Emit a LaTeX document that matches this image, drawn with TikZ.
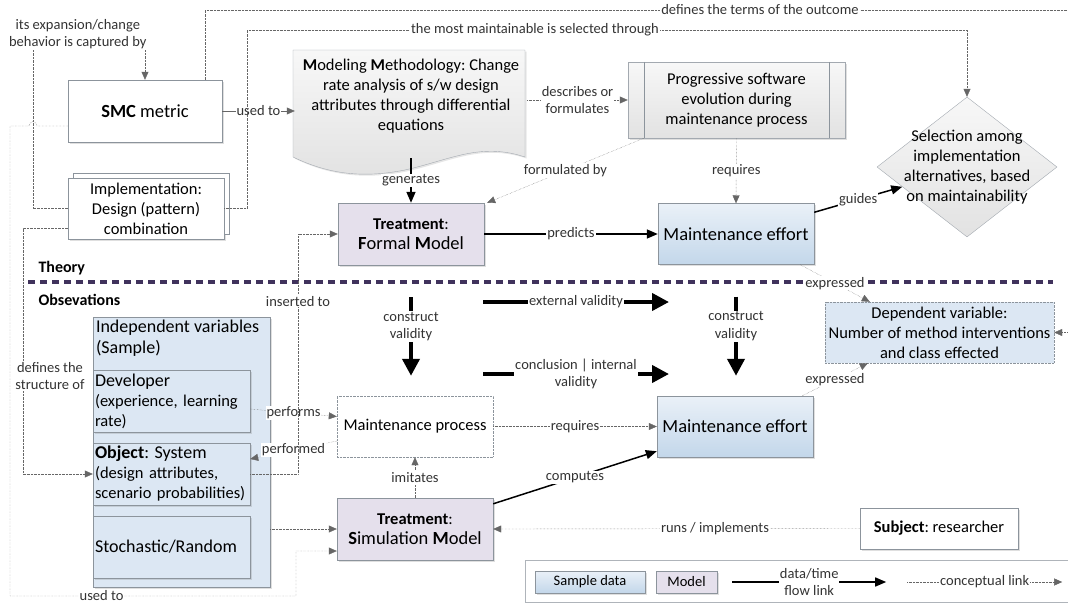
\documentclass[tikz,border=0pt]{standalone}
\usepackage{fontspec}
\setmainfont{Carlito}
\usetikzlibrary{shapes.geometric, arrows.meta, positioning, shadows}
\definecolor{sampleblue}{HTML}{DCE7F3}
\definecolor{effortblue}{HTML}{C3D7EA}
\definecolor{modelpurple}{HTML}{E5E0EC}
\definecolor{docgray}{HTML}{E2E2E2}
\definecolor{edgegray}{HTML}{8C949C}
\definecolor{linkgray}{HTML}{666666}
\definecolor{theorypurple}{HTML}{40325C}

\newcommand{\boxfont}{\fontsize{16.5}{20}\selectfont}
\newcommand{\lblfont}{\fontsize{14.5}{17.5}\selectfont}
\newcommand{\effortfont}{\fontsize{18.5}{22}\selectfont}
\newcommand{\varfont}{\fontsize{18}{21}\selectfont}

\begin{document}
\frenchspacing
\begin{tikzpicture}[x=1pt, y=-1pt, font=\boxfont]
\tikzstyle{box} = [rectangle, draw=edgegray, align=center, inner sep=3pt, drop shadow={shadow xshift=1.5pt, shadow yshift=-1.5pt, opacity=0.25}]
\tikzstyle{plain} = [box, fill=white]
\tikzstyle{sample} = [box, fill=sampleblue]
\tikzstyle{leftbox} = [sample, align=left, text width=153pt, inner sep=2pt, minimum width=157pt, minimum height=62pt]
\tikzstyle{effort} = [box, top color=sampleblue!60!white, bottom color=effortblue, font=\effortfont, minimum width=156pt, minimum height=61pt]
\tikzstyle{model} = [box, fill=modelpurple, minimum width=156pt, minimum height=62pt]
\tikzstyle{grayfill} = [top color=white!97!black, bottom color=docgray, draw=edgegray!80]
\tikzstyle{concept} = [densely dotted, draw=linkgray, -{Triangle[length=8pt, width=7pt]}]
\tikzstyle{flow} = [draw=black, line width=1.5pt, -{Triangle[length=11pt, width=9pt]}]
\tikzstyle{validity} = [line width=4pt, -{Triangle[length=17pt, width=17pt]}]
\tikzstyle{lbl} = [fill=white, inner sep=1pt, font=\lblfont, text=black!80, align=center]
\tikzstyle{heading} = [font=\fontsize{16}{19}\selectfont\bfseries, anchor=west]

\useasboundingbox (0,0) rectangle (1068,605);

% theory / observation border
\draw[theorypurple, line width=3.5pt, dash pattern=on 7pt off 5pt] (28,282) -- (1053,282);
\node (theory) [heading] at (35,268) {Theory};
\node (obs) [heading] at (35,300) {Obsevations};

% theory part
\node (smc) [plain, font=\effortfont, minimum width=154pt, minimum height=62pt] at (145,111) {\textbf{SMC} metric};
\node (impl) [plain, minimum width=156pt, minimum height=61pt, copy shadow={shadow xshift=5pt, shadow yshift=5pt, fill=white, draw=edgegray}] at (146,208.5) {Implementation:\\Design (pattern)\\combination};

\draw[grayfill, drop shadow={shadow xshift=1.5pt, shadow yshift=-1.5pt, opacity=0.2}] (293,50) -- (525,50) -- (525,157)
  .. controls (480,142) and (450,160) .. (405,170) .. controls (365,178) and (330,175) .. (293,157) -- cycle;
\node (method) [minimum width=232pt, minimum height=108pt, align=center] at (411,96) {\textbf{M}odeling \textbf{M}ethodology: Change\\rate analysis of s/w design\\attributes through differential\\equations};

\node (prog) [box, grayfill, minimum width=217pt, minimum height=76pt] at (736.5,100) {Progressive software\\evolution during\\maintenance process};
\draw[edgegray] ([xshift=16pt]prog.north west) -- ([xshift=16pt]prog.south west)
                ([xshift=-16pt]prog.north east) -- ([xshift=-16pt]prog.south east);

\node (select) [diamond, grayfill, minimum width=180pt, minimum height=140pt, inner sep=0pt,
  label={[align=center]center:{Selection among\\implementation\\alternatives, based\\on maintainability}}] at (967,167) {};

\node (formal) [model, minimum width=146pt] at (411,234) {\textbf{Treatment}:\\\effortfont\textbf{F}ormal \textbf{M}odel};
\node (effortA) [effort] at (736,234) {Maintenance effort};

% observation part
\node (dep) [rectangle, densely dotted, draw=edgegray, fill=sampleblue, align=center, minimum width=229pt, minimum height=61pt] at (939.5,332.5) {Dependent variable:\\Number of method interventions\\and class effected};
\node (indep) [sample, minimum width=177pt, minimum height=270pt,
  label={[anchor=north west, align=left, inner sep=3pt, font=\varfont]north west:Independent variables\\(Sample)}] at (181.5,452) {};
\node (dev) [leftbox] at (171.5,401) {{\varfont Developer}\\(experience, learning\\rate)};
\node (obj) [leftbox] at (171.5,474) {{\varfont\textbf{Object}: System}\\(design attributes,\\scenario probabilities)};
\node (stoch) [leftbox, font=\varfont] at (171.5,547) {Stochastic/Random};

\node (process) [rectangle, densely dotted, draw=edgegray, fill=white, minimum width=156pt, minimum height=61pt] at (415,426.5) {Maintenance process};
\node (effortB) [effort] at (735,426.5) {Maintenance effort};
\node (sim) [model] at (415,529) {\textbf{Treatment}:\\\effortfont\textbf{S}imulation \textbf{M}odel};
\node (subject) [plain, minimum width=158pt, minimum height=41pt] at (939,528.5) {\textbf{Subject}: researcher};

% legend
\node (legend) [rectangle, draw=edgegray!70, fill=white, minimum width=560pt, minimum height=42pt, anchor=north west] at (525,560) {};
\node (sampleKey) [sample, top color=sampleblue!60!white, bottom color=effortblue, font=\lblfont, minimum width=110pt, minimum height=22pt] at (590,582) {Sample data};
\node (modelKey) [model, font=\lblfont, minimum width=61pt, minimum height=22pt] at (686.5,582) {Model};
\coordinate[right=15pt of modelKey] (flowStart);
\coordinate[right=154pt of flowStart] (flowEnd);
\coordinate[right=21pt of flowEnd] (linkStart);
\coordinate[right=155pt of linkStart] (linkEnd);
\draw[flow] (flowStart) -- node[lbl] {data/time\\flow link} (flowEnd);
\draw[concept] (linkStart) -- node[lbl] {conceptual link} (linkEnd);

% validity arrows
\coordinate (extStart) at (483,302);
\coordinate (extEnd) at (669,302);
\coordinate (conStart) at (483,374);
\coordinate (conEnd) at (669,374);
\draw[validity, shorten <=32pt, shorten >=20pt] (formal.south) -- node[lbl, pos=0.47] {construct\\validity} (formal.south |- process.north);
\draw[validity, shorten <=32pt, shorten >=20pt] (effortA.south) -- node[lbl, pos=0.47] {construct\\validity} (effortA.south |- effortB.north);
\draw[validity] (extStart) -- node[lbl] {external validity} (extEnd);
\draw[validity] (conStart) -- node[lbl] {conclusion | internal\\validity} (conEnd);

% data / time flow links
\draw[flow] ([yshift=-8pt]method.south) -- node[lbl] {generates} (formal.north);
\draw[flow] (formal.east) -- node[lbl] {predicts} (effortA.west);
\draw[flow] ([yshift=-9pt]effortA.north east) -- node[lbl] {guides} (select.197);
\draw[flow] ([yshift=-6pt]sim.north east) -- node[lbl] {computes} ([yshift=6pt]effortB.south west);
\draw[linkgray, -{Triangle[length=8pt, width=7pt]}] (smc.east) -- node[lbl] {used to} (smc.east -| method.west);

% conceptual links
\draw[concept] (method.east |- prog.west) -- node[lbl] {describes or\\formulates} (prog.west);
\draw[concept] ([xshift=16pt]prog.south west) -- node[lbl] {formulated by} ([xshift=3pt]formal.north east);
\draw[concept] (prog.south) -- node[lbl] {requires} (effortA.north);
\draw[concept] ([xshift=-14pt]effortA.south east) -- node[lbl] {expressed} ([xshift=45pt]dep.north west);
\draw[concept] ([xshift=-11pt]effortB.north east) -- node[lbl] {expressed} ([xshift=43pt]dep.south west);
\draw[concept] (process.east) -- node[lbl] {requires} (effortB.west);
\draw[concept] (sim.north) -- node[lbl] {imitates} (process.south);
\draw[concept] (subject.west) -- node[lbl, pos=0.395] {runs / implements} (sim.east);
\draw[concept] ([yshift=-8pt]dev.east) -- node[lbl] {performs} ([yshift=10pt]process.west);
\draw[concept] ([yshift=-14.5pt]process.west) -- node[lbl] {performed} ([yshift=15pt]obj.east);
\draw[concept] (sim.west -| indep.east) -- (sim.west);
\draw[concept] (obj.east) -- (298,474) |- node[lbl, pos=0.36] {inserted to} (formal.west);
\draw[concept] ([xshift=-17pt]smc.north east) |- node[lbl, pos=0.82] {defines the terms of the outcome} (1072,10) |- (dep.east);
\draw[concept] (impl.east) -| (247,30) -| node[lbl, pos=0.2] {the most maintainable is selected through} (select.north);
\draw[concept] (impl.west) -| (33,48) -| node[lbl, pos=0.2, yshift=14pt] {its expansion/change\\behavior is captured by} (smc.north);
\draw[concept] ([yshift=-20pt]impl.west) -| node[lbl, pos=0.8, xshift=27pt] {defines the\\structure of} (23,474) -- (obj.west);
\draw[concept] ([yshift=-15pt]smc.west) -- (37,126) .. controls (37,120) and (29,120) .. (29,126) -- (10,126)
  |- node[lbl, pos=0.66] {used to} (296,596) |- ([yshift=-22pt]sim.west);

\end{tikzpicture}
\end{document}
